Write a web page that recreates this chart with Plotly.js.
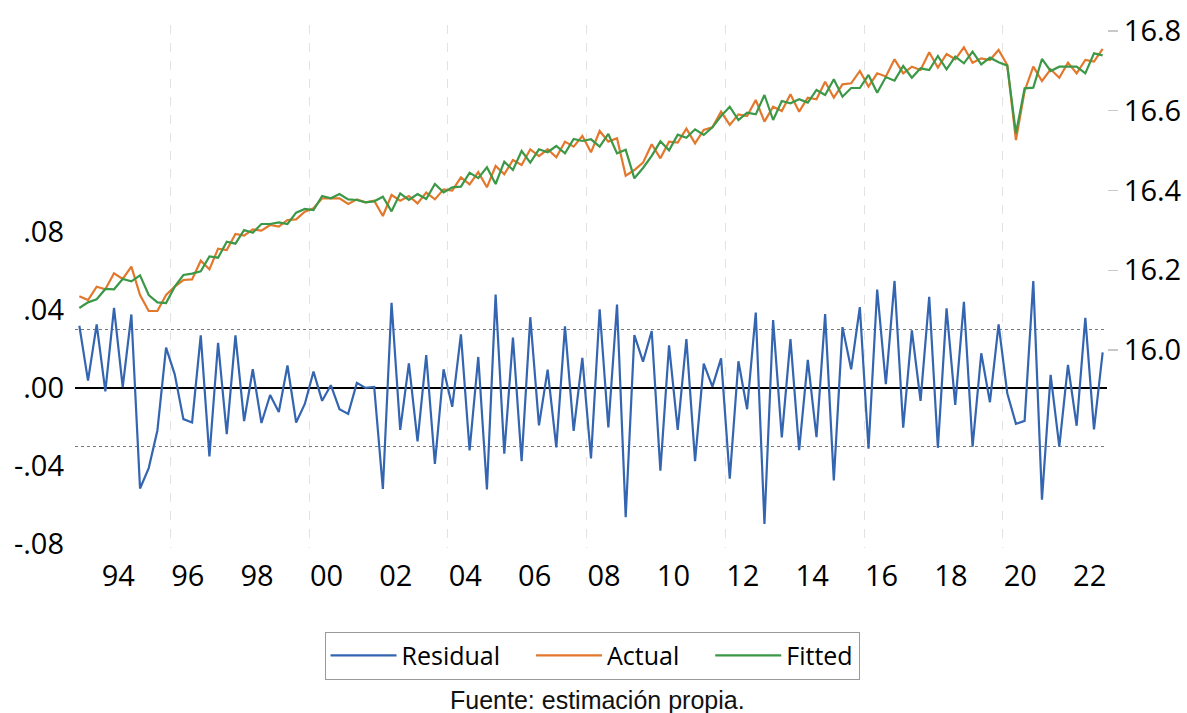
<!DOCTYPE html>
<html>
<head>
<meta charset="utf-8">
<script src="https://cdn.plot.ly/plotly-3.0.1.min.js"></script>
<style>
  html, body { margin: 0; padding: 0; background: #ffffff; }
  #chart { width: 1187px; height: 713px; }
</style>
</head>
<body>
<div id="chart"></div>
<script>
// Quarterly sample: 1993Q2 .. 2022Q4
const startYear = 1993;
const startQuarter = 2;

const residual = [
  0.0317, 0.0036, 0.0324, -0.0020, 0.0409, 0.0002, 0.0375, -0.0518, -0.0413, -0.0220,
  0.0205, 0.0068, -0.0162, -0.0179, 0.0268, -0.0353, 0.0230, -0.0239, 0.0268, -0.0172,
  0.0094, -0.0182, -0.0038, -0.0125, 0.0113, -0.0179, -0.0084, 0.0082, -0.0068, 0.0012,
  -0.0111, -0.0135, 0.0024, -0.0002, 0.0003, -0.0520, 0.0435, -0.0217, 0.0124, -0.0276,
  0.0167, -0.0392, 0.0094, -0.0099, 0.0273, -0.0322, 0.0157, -0.0523, 0.0477, -0.0339,
  0.0257, -0.0377, 0.0361, -0.0194, 0.0092, -0.0307, 0.0314, -0.0222, 0.0152, -0.0363,
  0.0402, -0.0205, 0.0426, -0.0665, 0.0269, 0.0133, 0.0290, -0.0426, 0.0217, -0.0217,
  0.0249, -0.0377, 0.0123, 0.0005, 0.0150, -0.0467, 0.0135, -0.0111, 0.0385, -0.0699,
  0.0346, -0.0256, 0.0249, -0.0321, 0.0142, -0.0254, 0.0377, -0.0476, 0.0310, 0.0094,
  0.0413, -0.0314, 0.0503, 0.0017, 0.0547, -0.0206, 0.0293, -0.0068, 0.0465, -0.0309,
  0.0406, -0.0089, 0.0440, -0.0303, 0.0176, -0.0075, 0.0324, -0.0029, -0.0186, -0.0171,
  0.0546, -0.0575, 0.0065, -0.0303, 0.0116, -0.0196, 0.0358, -0.0215, 0.0181
];

const actual = [
  16.1347, 16.1254, 16.1588, 16.1522, 16.1923, 16.1781, 16.2090, 16.1379, 16.0978, 16.0978,
  16.1379, 16.1588, 16.1755, 16.1772, 16.2240, 16.2023, 16.2541, 16.2508, 16.2909, 16.2867,
  16.3026, 16.2993, 16.3135, 16.3093, 16.3260, 16.3277, 16.3469, 16.3553, 16.3803, 16.3803,
  16.3803, 16.3661, 16.3778, 16.3703, 16.3744, 16.3360, 16.3887, 16.3744, 16.3862, 16.3678,
  16.3946, 16.3778, 16.4029, 16.3996, 16.4330, 16.4155, 16.4460, 16.4080, 16.4614, 16.4405,
  16.4765, 16.4639, 16.5033, 16.4865, 16.5033, 16.4831, 16.5225, 16.5100, 16.5367, 16.4957,
  16.5492, 16.5225, 16.5309, 16.4371, 16.4514, 16.4698, 16.5159, 16.4807, 16.5225, 16.5200,
  16.5550, 16.5183, 16.5517, 16.5584, 16.5977, 16.5643, 16.5910, 16.5868, 16.6270, 16.5726,
  16.6102, 16.5994, 16.6412, 16.5977, 16.6328, 16.6287, 16.6729, 16.6328, 16.6663, 16.6688,
  16.6997, 16.6604, 16.6938, 16.6860, 16.7290, 16.6938, 16.7105, 16.7022, 16.7466, 16.7080,
  16.7423, 16.7290, 16.7591, 16.7205, 16.7315, 16.7273, 16.7524, 16.7147, 16.5266, 16.6495,
  16.7105, 16.6746, 16.7039, 16.6829, 16.7205, 16.6938, 16.7273, 16.7231, 16.7549
];

const fitted = [
  16.1053, 16.1195, 16.1271, 16.1530, 16.1522, 16.1781, 16.1722, 16.1872, 16.1379, 16.1195,
  16.1179, 16.1588, 16.1881, 16.1914, 16.1973, 16.2349, 16.2315, 16.2716, 16.2666, 16.3010,
  16.2942, 16.3160, 16.3160, 16.3202, 16.3160, 16.3444, 16.3536, 16.3511, 16.3862, 16.3803,
  16.3912, 16.3778, 16.3762, 16.3703, 16.3728, 16.3845, 16.3477, 16.3929, 16.3762, 16.3912,
  16.3787, 16.4163, 16.3954, 16.4080, 16.4096, 16.4447, 16.4310, 16.4581, 16.4163, 16.4723,
  16.4514, 16.4991, 16.4698, 16.5033, 16.4960, 16.5116, 16.4932, 16.5292, 16.5242, 16.5284,
  16.5100, 16.5417, 16.4932, 16.5020, 16.4305, 16.4565, 16.4869, 16.5233, 16.5008, 16.5400,
  16.5320, 16.5534, 16.5392, 16.5584, 16.5868, 16.6102, 16.5768, 16.5952, 16.5910, 16.6395,
  16.5768, 16.6245, 16.6187, 16.6287, 16.6203, 16.6520, 16.6395, 16.6789, 16.6353, 16.6570,
  16.6570, 16.6897, 16.6453, 16.6845, 16.6754, 16.7122, 16.6829, 16.7064, 16.7022, 16.7373,
  16.7039, 16.7356, 16.7189, 16.7481, 16.7164, 16.7331, 16.7214, 16.7131, 16.5434, 16.6563,
  16.6578, 16.7298, 16.6997, 16.7105, 16.7105, 16.7105, 16.6938, 16.7440, 16.7390
];

// Residual standard error band (dotted lines)
const stdErr = 0.030;

// Axis tick labels
const xTickYears = [1994, 1996, 1998, 2000, 2002, 2004, 2006, 2008, 2010, 2012, 2014, 2016, 2018, 2020, 2022];
const xTickText = ['94', '96', '98', '00', '02', '04', '06', '08', '10', '12', '14', '16', '18', '20', '22'];
const xGridYears = [1996, 2000, 2004, 2008, 2012, 2016, 2020];
const leftTickVals = [-0.08, -0.04, 0.00, 0.04, 0.08];
const leftTickText = ['-.08', '-.04', '.00', '.04', '.08'];
const rightTickVals = [16.0, 16.2, 16.4, 16.6, 16.8];
const rightTickText = ['16.0', '16.2', '16.4', '16.6', '16.8'];

// Quarter positions (centre of each quarter, in decimal years)
const xq = residual.map((_, i) => {
  const q = (startQuarter - 1) + i;
  return startYear + Math.floor(q / 4) + (q % 4) / 4 + 0.125;
});

const BLUE = '#3465b0', ORANGE = '#e3782d', GREEN = '#3b9847';
const FONT = '"Open Sans", "Noto Sans", sans-serif';
const GAP = '\u00a0\u00a0\u00a0\u00a0';

const traces = [
  { x: xq, y: residual, name: 'Residual' + GAP, type: 'scatter', mode: 'lines',
    line: { color: BLUE, width: 2.2 }, xaxis: 'x', yaxis: 'y' },
  { x: xq, y: actual, name: 'Actual' + GAP, type: 'scatter', mode: 'lines',
    line: { color: ORANGE, width: 2.2 }, xaxis: 'x', yaxis: 'y2' },
  { x: xq, y: fitted, name: 'Fitted', type: 'scatter', mode: 'lines',
    line: { color: GREEN, width: 2.2 }, xaxis: 'x', yaxis: 'y2' }
];

const layout = {
  width: 1187, height: 713,
  paper_bgcolor: '#ffffff', plot_bgcolor: '#ffffff',
  margin: { l: 75, r: 80, t: 25, b: 165 },
  font: { family: FONT, color: '#000000' },
  showlegend: true,
  legend: {
    orientation: 'h', x: 0.501, xanchor: 'center', y: -0.16, yanchor: 'top',
    bordercolor: '#9a9a9a', borderwidth: 1, bgcolor: '#ffffff',
    font: { family: FONT, size: 25, color: '#000000' },
    itemwidth: 66
  },
  xaxis: {
    range: [1993.25, 2023.0],
    tickvals: xTickYears.map(y => y + 0.5), ticktext: xTickText,
    showgrid: false, zeroline: false, showline: false, ticks: '',
    tickfont: { family: FONT, size: 29, color: '#000000' },
    ticklabelstandoff: 8,
    minor: { tickvals: xGridYears, showgrid: true, gridcolor: '#e2e2e2', griddash: 'dash', gridwidth: 1, ticks: '' },
    fixedrange: true
  },
  yaxis: {
    range: [-0.0823, 0.186],
    tickvals: leftTickVals, ticktext: leftTickText,
    showgrid: false, showline: false, ticks: '',
    zeroline: true, zerolinecolor: '#000000', zerolinewidth: 2,
    tickfont: { family: FONT, size: 29, color: '#000000' },
    minor: { tickvals: [-stdErr, stdErr], showgrid: true, gridcolor: '#7a7a7a', griddash: 'dot', gridwidth: 1, ticks: '' },
    ticklabelstandoff: 10,
    fixedrange: true
  },
  yaxis2: {
    overlaying: 'y', side: 'right', anchor: 'x',
    range: [15.5035, 16.815],
    tickvals: rightTickVals, ticktext: rightTickText,
    showgrid: false, zeroline: false, showline: false,
    ticks: 'outside', ticklen: 10, tickcolor: '#c8c8c8', tickwidth: 1.5,
    tickfont: { family: FONT, size: 29, color: '#000000' },
    fixedrange: true
  },
  annotations: [{
    text: 'Fuente: estimación propia.', xref: 'paper', yref: 'paper',
    x: 0.506, y: -0.2906, xanchor: 'center', yanchor: 'middle', showarrow: false,
    font: { family: '"Liberation Sans", Arial, sans-serif', size: 25, color: '#111111' }
  }]
};

Plotly.newPlot('chart', traces, layout, { displayModeBar: false, staticPlot: true });
</script>
</body>
</html>
